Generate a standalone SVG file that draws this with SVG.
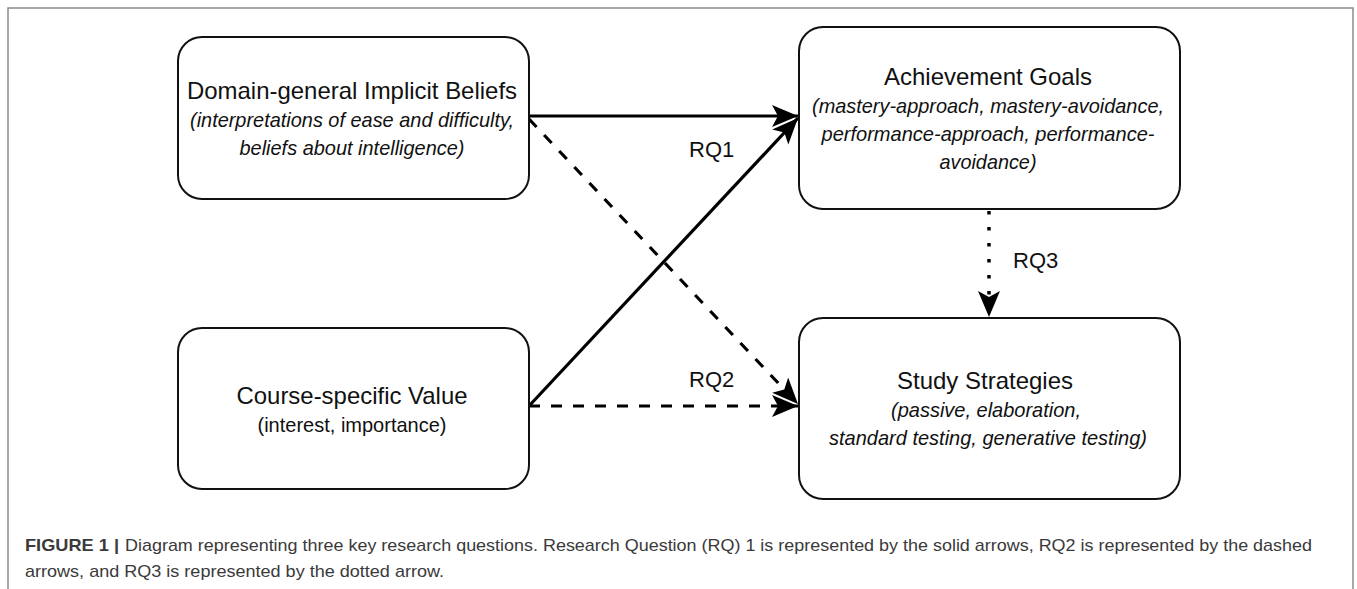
<svg xmlns="http://www.w3.org/2000/svg" width="1357" height="589" viewBox="0 0 1357 589">
<style>
.box{fill:#fff;stroke:#111;stroke-width:2}
.t{font-family:"Liberation Sans",Arial,sans-serif;fill:#111;text-anchor:middle}
.title{font-size:24px}
.it{font-size:21px;font-style:italic}
.sub{font-size:21px}
.lbl{font-family:"Liberation Sans",Arial,sans-serif;font-size:22px;fill:#111}
.edge{fill:none;stroke:#000;stroke-width:3.2}
.dash{stroke-dasharray:11 11}
.dot{stroke-dasharray:3.5 12.5;stroke-width:3.5}
.cap{font-family:"Liberation Sans",Arial,sans-serif;font-size:17px;fill:#3a3a3a}
</style>
<defs>
<marker id="ah" markerUnits="userSpaceOnUse" markerWidth="28" markerHeight="24" refX="26" refY="11" orient="auto" viewBox="0 0 28 24">
<path d="M0,0 L26,11 L0,22 L6,11 Z" fill="#000"/>
</marker>
</defs>
<rect width="1357" height="589" fill="#fff"/>
<path d="M8,589 V8 H1353 V589" fill="none" stroke="#8c8c8c" stroke-width="1.5"/>

<g id="connectors">
<line class="edge" x1="529" y1="116" x2="798" y2="116" marker-end="url(#ah)"/>
<line class="edge" x1="529" y1="406" x2="798" y2="118" marker-end="url(#ah)"/>
<line class="edge dash" x1="529" y1="119" x2="798" y2="404" marker-end="url(#ah)"/>
<line class="edge dash" x1="529" y1="406" x2="798" y2="406" marker-end="url(#ah)"/>
<line class="edge dot" x1="989" y1="211" x2="989" y2="317" marker-end="url(#ah)"/>
<text class="lbl" x="689" y="157">RQ1</text>
<text class="lbl" x="689" y="387">RQ2</text>
<text class="lbl" x="1013" y="268">RQ3</text>
</g>

<g id="node-beliefs">
<rect class="box" x="178" y="37" width="351" height="162" rx="24"/>
<text class="t title" x="352" y="99" textLength="330" lengthAdjust="spacingAndGlyphs">Domain-general Implicit Beliefs</text>
<text class="t it" x="352" y="127" textLength="324" lengthAdjust="spacingAndGlyphs">(interpretations of ease and difficulty,</text>
<text class="t it" x="352" y="155" textLength="225" lengthAdjust="spacingAndGlyphs">beliefs about intelligence)</text>
</g>

<g id="node-goals">
<rect class="box" x="799" y="27" width="381" height="182" rx="24"/>
<text class="t title" x="988" y="85" textLength="208" lengthAdjust="spacingAndGlyphs">Achievement Goals</text>
<text class="t it" x="988" y="113" textLength="352" lengthAdjust="spacingAndGlyphs">(mastery-approach, mastery-avoidance,</text>
<text class="t it" x="988" y="141" textLength="333" lengthAdjust="spacingAndGlyphs">performance-approach, performance-</text>
<text class="t it" x="988" y="169" textLength="97" lengthAdjust="spacingAndGlyphs">avoidance)</text>
</g>

<g id="node-value">
<rect class="box" x="178" y="328" width="351" height="161" rx="24"/>
<text class="t title" x="352" y="404" textLength="231" lengthAdjust="spacingAndGlyphs">Course-specific Value</text>
<text class="t sub" x="352" y="432" textLength="189" lengthAdjust="spacingAndGlyphs">(interest, importance)</text>
</g>

<g id="node-strategies">
<rect class="box" x="799" y="318" width="381" height="181" rx="24"/>
<text class="t title" x="985" y="389" textLength="176" lengthAdjust="spacingAndGlyphs">Study Strategies</text>
<text class="t it" x="986" y="417" textLength="190" lengthAdjust="spacingAndGlyphs">(passive, elaboration,</text>
<text class="t it" x="988" y="445" textLength="318" lengthAdjust="spacingAndGlyphs">standard testing, generative testing)</text>
</g>

<g id="caption">
<text class="cap" x="25" y="551" font-weight="bold" fill="#222" textLength="94" lengthAdjust="spacingAndGlyphs">FIGURE 1 |</text>
<text class="cap" x="125" y="551" textLength="1187" lengthAdjust="spacingAndGlyphs">Diagram representing three key research questions. Research Question (RQ) 1 is represented by the solid arrows, RQ2 is represented by the dashed</text>
<text class="cap" x="25" y="577" textLength="419" lengthAdjust="spacingAndGlyphs">arrows, and RQ3 is represented by the dotted arrow.</text>
</g>
</svg>
